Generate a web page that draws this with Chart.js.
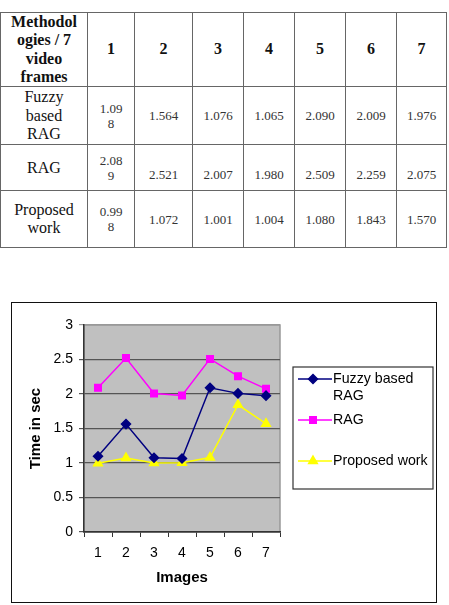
<!DOCTYPE html>
<html>
<head>
<meta charset="utf-8">
<script src="https://cdn.jsdelivr.net/npm/chart.js@4"></script>
<style>
  body { margin: 0; background: #fff; width: 449px; height: 605px; position: relative; overflow: hidden; }
  table { position: absolute; left: 0; top: 12px; border-collapse: collapse; font-family: "Liberation Serif", "Times New Roman", serif; table-layout: fixed; }
  td { border: 1.5px solid #666; text-align: center; padding: 0; font-size: 16px; line-height: 18.3px; color: #111; }
  td.h { font-weight: bold; }
  td.n { font-size: 13px; line-height: 15px; color: #333; }
  tr.r2 td.n { padding-top: 14px; }
  #frame { position: absolute; left: 11px; top: 302px; width: 426px; height: 301px; border: 1.5px solid #111; box-sizing: border-box; }
  #chart { position: absolute; left: 0; top: 0; }
</style>
</head>
<body>
<table id="tbl"></table>
<div id="frame"><canvas id="chart" width="423" height="298"></canvas></div>
<script>
// data
const images = ['1', '2', '3', '4', '5', '6', '7'];
const fuzzyRag = [1.098, 1.564, 1.076, 1.065, 2.090, 2.009, 1.976];
const rag = [2.089, 2.521, 2.007, 1.980, 2.509, 2.259, 2.075];
const proposed = [0.998, 1.072, 1.001, 1.004, 1.080, 1.843, 1.570];
const legendLines = [['Fuzzy based', 'RAG'], ['RAG'], ['Proposed work']];
const rowNames = ['Fuzzy<br>based<br>RAG', 'RAG', 'Proposed<br>work'];

// table
const colW = [87, 47, 58, 51, 51, 51, 51, 50];
const rowH = [74, 58, 46, 57];
const tbl = document.getElementById('tbl');
let html = '<colgroup>' + colW.map(w => '<col style="width:' + w + 'px">').join('') + '</colgroup>';
html += '<tr style="height:' + rowH[0] + 'px"><td class="h">Methodol<br>ogies / 7<br>video<br>frames</td>' +
  images.map(c => '<td class="h">' + c + '</td>').join('') + '</tr>';
[fuzzyRag, rag, proposed].forEach((vals, r) => {
  html += '<tr class="r' + (r + 1) + '" style="height:' + rowH[r + 1] + 'px"><td>' + rowNames[r] + '</td>';
  vals.forEach((v, i) => {
    let s = v.toFixed(3);
    if (i === 0) s = s.slice(0, 4) + '<br>' + s.slice(4);
    html += '<td class="n"' + (i === 0 ? ' style="padding-top:0"' : '') + '>' + s + '</td>';
  });
  html += '</tr>';
});
tbl.innerHTML = html;

const font = 'Liberation Sans';
const colors = ['#000080', '#ff00ff', '#ffff00'];
const styles = ['rectRot', 'rect', 'triangle'];
const radii = [4.5, 4.6, 5];

const plotBg = {
  id: 'plotBg',
  beforeDraw(chart) {
    const { ctx, chartArea: a } = chart;
    ctx.save();
    ctx.fillStyle = '#c0c0c0';
    ctx.fillRect(a.left, a.top, a.right - a.left, a.bottom - a.top);
    ctx.strokeStyle = '#999';
    ctx.lineWidth = 1.5;
    ctx.strokeRect(a.left, a.top, a.right - a.left, a.bottom - a.top);
    ctx.restore();
  }
};

const boxLegend = {
  id: 'boxLegend',
  afterDraw(chart) {
    const ctx = chart.ctx;
    ctx.save();
    ctx.strokeStyle = '#333';
    ctx.lineWidth = 1.2;
    ctx.strokeRect(281, 64, 140, 122);
    ctx.font = '14.2px "' + font + '"';
    ctx.textBaseline = 'middle';
    chart.data.datasets.forEach((ds, i) => {
      const y = 76 + i * 41;
      ctx.strokeStyle = ds.borderColor;
      ctx.lineWidth = 1.5;
      ctx.beginPath();
      ctx.moveTo(286, y);
      ctx.lineTo(320, y);
      ctx.stroke();
      ctx.fillStyle = ds.pointBackgroundColor;
      ctx.strokeStyle = ds.pointBorderColor;
      Chart.helpers.drawPoint(ctx, { pointStyle: ds.pointStyle, radius: ds.pointRadius, borderWidth: 1 }, 301, y);
      ctx.fillStyle = '#000';
      legendLines[i].forEach((t, k) => ctx.fillText(t, 321, y + k * 17));
    });
    ctx.restore();
  }
};

new Chart(document.getElementById('chart'), {
  type: 'line',
  data: {
    labels: images,
    datasets: [fuzzyRag, rag, proposed].map((d, i) => ({
      label: legendLines[i].join(' '),
      data: d,
      borderColor: colors[i],
      backgroundColor: colors[i],
      pointBackgroundColor: colors[i],
      pointBorderColor: colors[i],
      pointStyle: styles[i],
      pointRadius: radii[i],
      borderWidth: 1.5,
      tension: 0
    }))
  },
  options: {
    responsive: false,
    animation: false,
    layout: { padding: { left: 0, right: 155, top: 22, bottom: 0 } },
    plugins: { legend: { display: false }, tooltip: { enabled: false } },
    scales: {
      x: {
        offset: true,
        afterFit: s => { s.height = 69; },
        grid: { drawOnChartArea: false, drawTicks: true, tickLength: 5, color: '#333', offset: true },
        border: { color: '#333', width: 1.5 },
        ticks: { color: '#000', font: { family: font, size: 14 }, padding: 8 },
        title: { display: true, text: 'Images', color: '#000', font: { family: font, size: 15, weight: 'bold' }, padding: { top: 0, bottom: 14 } }
      },
      y: {
        min: 0,
        max: 3,
        afterFit: s => { s.width = 72; },
        grid: { color: c => c.tick && c.tick.value === 3 ? '#999' : '#555', tickLength: 5, lineWidth: 1.2 },
        border: { color: '#333', width: 1.5 },
        ticks: { stepSize: 0.5, color: '#000', font: { family: font, size: 14 }, padding: 6, callback: v => String(+v.toFixed(1)) },
        title: { display: true, text: 'Time in sec', color: '#000', font: { family: font, size: 15, weight: 'bold' }, padding: { top: 15, bottom: 0 } }
      }
    }
  },
  plugins: [plotBg, boxLegend]
});
</script>
</body>
</html>
